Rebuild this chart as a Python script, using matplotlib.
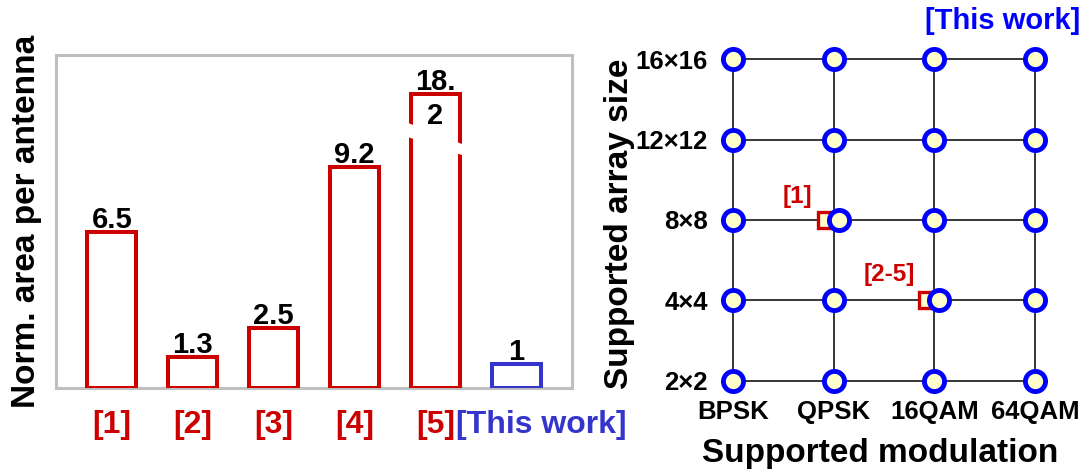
import numpy as np
import matplotlib
matplotlib.use("Agg")
import matplotlib.pyplot as plt
from matplotlib.patches import Polygon
from matplotlib.transforms import ScaledTranslation

plt.rcParams['font.family'] = ['Liberation Sans', 'DejaVu Sans']
plt.rcParams['font.weight'] = 'bold'
plt.rcParams['axes.labelweight'] = 'bold'

# --- left panel: normalised area per antenna
works = ['[1]', '[2]', '[3]', '[4]', '[5]', '[This work]']
norm_area = [6.5, 1.3, 2.5, 9.2, 18.2, 1.0]
area_labels = ['6.5', '1.3', '2.5', '9.2', '18.\n2', '1']

# --- right panel: supported modulation / array size
modulations = ['BPSK', 'QPSK', '16QAM', '64QAM']
array_sizes = ['2×2', '4×4', '8×8', '12×12', '16×16']
ref_names = ['[1]', '[2-5]']
ref_mod = ['QPSK', '16QAM']
ref_size = ['8×8', '4×4']

red = '#cc0000'
blue = '#0000ff'
blue_bar = '#3535cc'
y_cap = 12.25   # the 18.2 bar is broken and drawn up to this height

fig = plt.figure(figsize=(10.87, 4.72), dpi=100)

# ---------------- left chart
ax1 = fig.add_axes([0.0515, 0.178, 0.4747, 0.7055])
x = np.arange(len(works))
colors = [red] * (len(works) - 1) + [blue_bar]
shown = np.minimum(norm_area, y_cap)
ax1.bar(x, shown, width=0.61, facecolor='white', edgecolor=colors,
        linewidth=2.9, zorder=3)

# break marks on the truncated bar
for xi, v in zip(x, norm_area):
    if v > y_cap:
        x0, x1 = xi - 0.38, xi + 0.38
        gap = Polygon([(x0, 11.1), (x1, 10.1), (x1, 9.65), (x0, 10.5)],
                      closed=True, facecolor='white', edgecolor='none', zorder=4)
        ax1.add_patch(gap)

line_step = 24.5  # points between wrapped label lines
for xi, h, lbl in zip(x, shown, area_labels):
    nl = lbl.count('\n')
    ax1.annotate(lbl, (xi, h), xytext=(0, 3 - nl * line_step),
                 textcoords='offset points', ha='center', va='baseline',
                 fontsize=21, fontweight='bold', linespacing=1.275, zorder=5)

ax1.set_xlim(-0.69, 5.69)
ax1.set_ylim(0, 13.875)
ax1.set_yticks([])
ax1.set_xticks(x, works)
ax1.tick_params(axis='x', length=0, pad=16, labelsize=23)
for lab, c in zip(ax1.get_xticklabels(), colors):
    lab.set_color(c)
last = ax1.get_xticklabels()[-1]
last.set_transform(last.get_transform() + ScaledTranslation(0.25, 0, fig.dpi_scale_trans))
for sp in ax1.spines.values():
    sp.set_color('#bfbfbf')
    sp.set_linewidth(2.2)
ax1.set_ylabel('Norm. area per antenna', fontsize=24, fontweight='bold')
ax1.yaxis.set_label_coords(-0.027, 0.5)

# ---------------- right chart
ax2 = fig.add_axes([0.6558, 0.1587, 0.315, 0.7504])
mx = np.arange(len(modulations))
sy = np.arange(len(array_sizes))
for r in sy:
    ax2.plot([mx[0], mx[-1]], [r, r], color='black', lw=1.1, zorder=1)
for c in mx:
    ax2.plot([c, c], [sy[0], sy[-1]], color='black', lw=1.1, zorder=1)

XX, YY = np.meshgrid(mx, sy)
XX = XX.astype(float)
for name, m, s in zip(ref_names, ref_mod, ref_size):
    c = modulations.index(m)
    r = array_sizes.index(s)
    XX[r, c] += 0.05
    ax2.plot(c - 0.075, r, 's', ms=11.5, mfc='#ffffcc', mec=red, mew=2.4, zorder=3)
    off = (-21, 17) if name == '[1]' else (-27, 19)
    ax2.annotate(name, (c - 0.075, r), xytext=off, textcoords='offset points',
                 ha='center', va='center', color=red, fontsize=17.5)

ax2.plot(XX.ravel(), YY.ravel(), 'o', ms=14.5, mfc='#ffffcc', mec=blue,
         mew=3.5, linestyle='none', clip_on=False, zorder=4)

ax2.text(0.847, 1.0615, '[This work]', transform=ax2.transAxes, color=blue,
         fontsize=21, ha='center', va='center')

ax2.set_xlim(-0.2, 3.2)
ax2.set_ylim(-0.2, 4.2)
ax2.set_xticks(mx, modulations)
ax2.set_yticks(sy, array_sizes)
ax2.tick_params(axis='x', length=0, pad=2, labelsize=18.5)
ax2.tick_params(axis='y', length=0, pad=3.6, labelsize=18.5)
for sp in ax2.spines.values():
    sp.set_visible(False)
ax2.set_xlabel('Supported modulation', fontsize=24, fontweight='bold')
ax2.xaxis.set_label_coords(0.488, -0.115)
ax2.set_ylabel('Supported array size', fontsize=24, fontweight='bold')
ax2.yaxis.set_label_coords(-0.2275, 0.488)

fig.savefig('out.png', dpi=100)
